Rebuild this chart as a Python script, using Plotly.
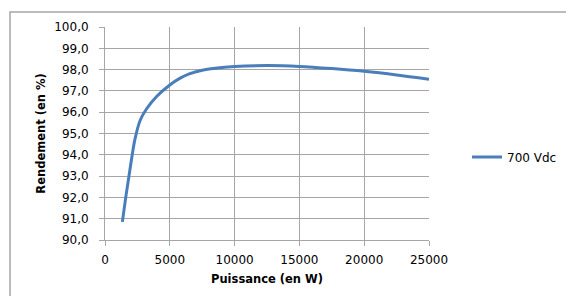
import plotly.graph_objects as go

puissance = [1340, 1600, 1850, 2100, 2300, 2700, 3200, 4000, 5000, 5800, 6500, 7500, 8500,
             10000, 12500, 15000, 17500, 20000, 22500, 25000]
rendement = [90.85, 92.0, 93.0, 94.0, 94.7, 95.6, 96.15, 96.75, 97.28, 97.6, 97.8, 97.97, 98.06,
             98.14, 98.19, 98.15, 98.05, 97.92, 97.75, 97.55]
series_name = "700 Vdc"
x_ticks = [0, 5000, 10000, 15000, 20000, 25000]
y_ticks = [90, 91, 92, 93, 94, 95, 96, 97, 98, 99, 100]

OFF = 8  # page body margin
W, H = 574 - OFF, 296 - OFF
L, R, T, B = 105 - OFF, 429 - OFF, 27 - OFF, 240 - OFF

fig = go.Figure()
fig.add_trace(go.Scatter(x=puissance, y=rendement, mode="lines", name=series_name,
                         line=dict(color="#4A7EBB", width=3, shape="spline", smoothing=0.9)))

font = "DejaVu Sans"
axis_common = dict(showgrid=True, gridcolor="#A6A6A6", gridwidth=1, showline=True,
                   linecolor="#A6A6A6", linewidth=1, ticks="outside", ticklen=5,
                   tickcolor="#A6A6A6", zeroline=False,
                   tickfont=dict(family=font, size=12, color="#000"))
fig.update_layout(
    width=W, height=H, separators=", ",
    margin=dict(l=L, r=W - R, t=T, b=H - B),
    paper_bgcolor="white", plot_bgcolor="white",
    showlegend=True,
    legend=dict(x=(467 - OFF - L) / (R - L), y=(B - (157 - OFF)) / (B - T),
                xanchor="left", yanchor="middle",
                font=dict(family=font, size=12, color="#000"), bgcolor="rgba(0,0,0,0)"),
    xaxis=dict(range=[0, 25000], tickvals=x_ticks, tickformat="d", ticklabelstandoff=4,
               title=dict(text="<b>Puissance (en W)</b>", font=dict(family=font, size=11.5, color="#000"),
                          standoff=8),
               **axis_common),
    yaxis=dict(range=[90, 100], tickvals=y_ticks, tickformat=".1f", ticklabelstandoff=8,
               title=dict(text="<b>Rendement (en %)</b>", font=dict(family=font, size=11.5, color="#000"),
                          standoff=6),
               **axis_common),
)
# outer chart border (top and left visible)
px = lambda v: (v - OFF - L) / (R - L)
py = lambda v: (B - (v - OFF)) / (B - T)
fig.add_shape(type="rect", xref="paper", yref="paper",
              x0=px(10), x1=px(600), y0=py(320), y1=py(12),
              line=dict(color="#A6A6A6", width=1.5), fillcolor="rgba(0,0,0,0)", layer="above")
fig.write_html("out.html")
